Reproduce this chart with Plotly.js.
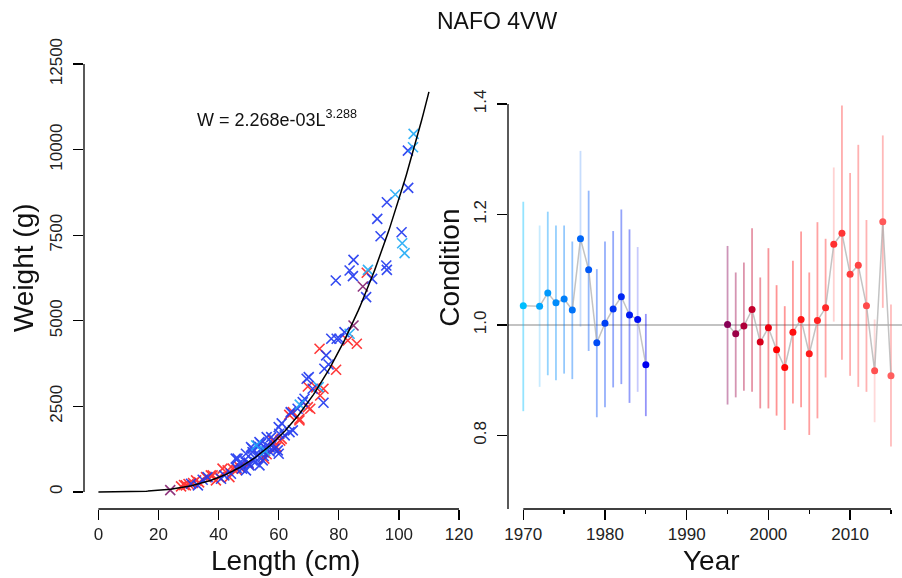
<!DOCTYPE html>
<html>
<head>
<meta charset="utf-8">
<script src="https://cdn.plot.ly/plotly-3.0.1.min.js"></script>
<style>html,body{margin:0;padding:0;background:#fff;}#chart{width:902px;height:578px;}</style>
</head>
<body>
<div id="chart"></div>
<script>
// ---------------- DATA ----------------
// Length-weight fit (as printed on chart)
const fitA = 2.268e-3;
const fitB = 3.288;
const fitMaxLength = 110;

// Scatter of length (cm) / weight (g), grouped by colour period
const lenBlue = [103,103.1,96,92.8,93.9,100.9,95.8,96,84.9,83.6,84.7,79,91.1,89.1,81.9,80.2,77.5,79.3,75.8,76.6,75.2,70,69.3,71.3,74.9,68,66.3,68.6,64.1,64.7,63.6,60,60.2,60,58.6,56,54.1,50.8,51.3,53,52.2,53.6,50.2,48.6,46.3,47.8,49.1,44.1,41.9,34.7,30.8,33.1,36.3,40.8,45.7,49.1,51.3,53.6,57.5,61,59.7,64,51.3,54.7,55,57,52,54,56,50,48,46,58,62,55,53,57,47];
const wtBlue  = [9974,8884,8464,7979,7471,7588,6615,6489,6781,6469,6303,6177,6226,5690,4668,4474,4474,4474,3987,3724,3598,3353,3306,3014,2605,2623,2430,2722,2313,1796,1747,1893,1700,1116,1262,1600,1408,1308,1162,1066,870,774,774,920,970,678,628,531,482,356,239,190,432,385,970,1116,1262,1455,1600,2000,1212,2330,920,920,1150,1300,1000,1250,1350,850,780,700,1400,1650,1050,1350,1180,850];

const lenRed = [89.3,73.6,79.1,83,86,69.7,74.9,73.8,69.7,70.5,66.9,64.7,58,59.3,55.2,44.7,43,41.3,40.2,38,35.8,32.5,29.1,27.5,30,28.5,31.5,33.5,47,58.6,63.5,66.9,43.6,39.1,37.4,46,50,56,61,72.5,60.5];
const wtRed  = [6402,4182,3569,4425,4328,3081,3014,2818,2477,2430,2138,2331,1504,1308,970,678,628,678,432,482,432,336,190,161,230,200,260,280,725,1262,2250,2088,432,336,482,650,820,1100,1550,3050,1500];

const lenLight = [104.9,104.7,98.8,101.1,101.9,89.7,83.6,73.3,52.5,67,55.5];
const wtLight  = [10461,10070,8689,7267,6975,6489,4620,3061,1358,2550,1200];

const lenPurple = [88,84.9,23.9];
const wtPurple  = [6002,4863,50];

// Condition index by year, with interval limits
const yearsEarly = [1970,1972,1973,1974,1975,1976,1977,1978,1979,1980,1981,1982,1983,1984,1985];
const condEarly  = [1.035,1.034,1.058,1.040,1.047,1.027,1.156,1.100,0.968,1.003,1.029,1.051,1.018,1.010,0.928];
const lowEarly   = [0.844,0.888,0.909,0.900,0.912,0.902,0.997,0.953,0.833,0.851,0.887,0.893,0.859,0.879,0.835];
const highEarly  = [1.223,1.180,1.205,1.180,1.180,1.151,1.315,1.243,1.101,1.151,1.170,1.209,1.173,1.141,1.020];

const yearsLate = [1995,1996,1997,1998,1999,2000,2001,2002,2003,2004,2005,2006,2007,2008,2009,2010,2011,2012,2013,2014,2015];
const condLate  = [1.001,0.984,0.998,1.028,0.969,0.995,0.955,0.923,0.987,1.010,0.948,1.008,1.031,1.146,1.166,1.092,1.108,1.035,0.917,1.187,0.908];
const lowLate   = [0.856,0.869,0.881,0.879,0.849,0.849,0.836,0.810,0.858,0.851,0.801,0.831,0.905,1.006,0.937,0.908,0.888,0.879,0.824,1.031,0.780];
const highLate  = [1.143,1.095,1.113,1.175,1.086,1.139,1.072,1.034,1.116,1.169,1.095,1.186,1.156,1.285,1.397,1.275,1.326,1.190,1.010,1.343,1.037];

const lengthTicks = [0,20,40,60,80,100,120];
const weightTicks = [0,2500,5000,7500,10000,12500];
const weightTickText = ['0','2500','5000','7500','10000','12500'];
const yearTicks = [1970,1980,1990,2000,2010];
const yearTickText = ['1970','1980','1990','2000','2010'];
const yearMinorTicks = [1975,1985,1995,2005,2015];
const condTicks = [0.8,1.0,1.2,1.4];
const condTickText = ['0.8','1.0','1.2','1.4'];

// ---------------- STYLE ----------------
const FONT = 'Liberation Sans, Arial, Helvetica, sans-serif';
const W = 902, H = 578;
const px = v => v / W;
const py = v => 1 - v / H;
const cRange = [0.667, 1.503];

function mix(c1, c2, t) {
  return c1.map((v, i) => Math.round(v + (c2[i] - v) * t));
}
function earlyColor(yr) {
  const t = (yr - 1970) / 15;
  return mix([0, 191, 255], [0, 0, 240], t);
}
function lateColor(yr) {
  if (yr <= 2001) return mix([135, 0, 85], [255, 0, 0], (yr - 1995) / 6);
  return mix([255, 0, 0], [255, 95, 95], (yr - 2001) / 14);
}
const rgb = c => `rgb(${c[0]},${c[1]},${c[2]})`;
const rgba = (c, a) => `rgba(${c[0]},${c[1]},${c[2]},${a})`;
const lightBars = [1972, 1977, 1984, 2008, 2013];

const traces = [];

// scatter groups
function xs(lens, wts, col) {
  traces.push({
    type: 'scatter', mode: 'markers', x: lens, y: wts, xaxis: 'x', yaxis: 'y',
    marker: {symbol: 'x-thin-open', size: 10, color: col, line: {width: 1.6, color: col}},
    opacity: 0.9, hoverinfo: 'skip'
  });
}
xs(lenRed, wtRed, 'rgb(255,35,35)');
xs(lenBlue, wtBlue, 'rgb(30,55,240)');
xs(lenLight, wtLight, 'rgb(30,170,245)');
xs(lenPurple, wtPurple, 'rgb(130,30,110)');

// fitted curve
const curveL = [], curveW = [];
for (let L = 0; L <= fitMaxLength + 1e-9; L += 0.5) {
  curveL.push(L);
  curveW.push(fitA * Math.pow(L, fitB));
}
traces.push({type: 'scatter', mode: 'lines', x: curveL, y: curveW, xaxis: 'x', yaxis: 'y',
  line: {color: '#000', width: 1.5}, hoverinfo: 'skip'});

// error bars
function bars(years, lows, highs, colFn) {
  years.forEach((yr, i) => {
    const a = lightBars.includes(yr) ? 0.22 : 0.42;
    traces.push({type: 'scatter', mode: 'lines', x: [yr, yr], y: [lows[i], highs[i]],
      xaxis: 'x2', yaxis: 'y2', line: {color: rgba(colFn(yr), a), width: 1.8}, hoverinfo: 'skip'});
  });
}
bars(yearsEarly, lowEarly, highEarly, earlyColor);
bars(yearsLate, lowLate, highLate, lateColor);

// connecting lines
[[yearsEarly, condEarly], [yearsLate, condLate]].forEach(([x, y]) => {
  traces.push({type: 'scatter', mode: 'lines', x: x, y: y, xaxis: 'x2', yaxis: 'y2',
    line: {color: 'rgba(175,175,175,0.75)', width: 1.5}, hoverinfo: 'skip'});
});
// points
traces.push({type: 'scatter', mode: 'markers', x: yearsEarly, y: condEarly, xaxis: 'x2', yaxis: 'y2',
  marker: {size: 7, color: yearsEarly.map(y => rgb(earlyColor(y)))}, hoverinfo: 'skip'});
traces.push({type: 'scatter', mode: 'markers', x: yearsLate, y: condLate, xaxis: 'x2', yaxis: 'y2',
  marker: {size: 7, color: yearsLate.map(y => rgb(lateColor(y)))}, hoverinfo: 'skip'});

const tickCommon = {
  showgrid: false, zeroline: false, showline: false, ticks: 'outside', ticklen: 10,
  tickwidth: 1.3, tickcolor: '#000', tickfont: {family: FONT, size: 17, color: '#222'}
};

const axLine = {color: '#000', width: 1.3};
const layout = {
  width: W, height: H, margin: {l: 0, r: 0, t: 0, b: 0},
  paper_bgcolor: '#fff', plot_bgcolor: '#fff', showlegend: false,
  xaxis: Object.assign({}, tickCommon, {domain: [px(84), px(473.4)], range: [-4.8, 124.8],
    tickmode: 'array', tickvals: lengthTicks, ticktext: lengthTicks.map(String), anchor: 'y', ticklabelstandoff: 0}),
  yaxis: Object.assign({}, tickCommon, {domain: [py(509), py(47)], range: [-500, 13000],
    tickmode: 'array', tickvals: weightTicks, ticktext: weightTickText, tickangle: -90, anchor: 'x', ticklabelstandoff: 4}),
  xaxis2: Object.assign({}, tickCommon, {domain: [px(508), 1], range: [1968.13, 2016.35],
    tickmode: 'array', tickvals: yearTicks, ticktext: yearTickText, anchor: 'y2', ticklabelstandoff: 0,
    minor: {tickmode: 'array', tickvals: yearMinorTicks, ticks: 'outside', ticklen: 4, tickwidth: 1.3, tickcolor: '#000', showgrid: false}}),
  yaxis2: Object.assign({}, tickCommon, {domain: [py(509), py(47)], range: cRange,
    tickmode: 'array', tickvals: condTicks, ticktext: condTickText, tickangle: -90, anchor: 'x2', ticklabelstandoff: 4}),
  shapes: [
    {type: 'line', layer: 'below', xref: 'x2 domain', x0: 0, x1: 1, yref: 'y2', y0: 1, y1: 1, line: {color: 'rgb(195,195,195)', width: 2}},
    {type: 'line', xref: 'x domain', x0: 0, x1: 0, yref: 'y', y0: weightTicks[0], y1: weightTicks[weightTicks.length - 1], line: axLine},
    {type: 'line', xref: 'x', x0: lengthTicks[0], x1: lengthTicks[lengthTicks.length - 1], yref: 'y domain', y0: 0, y1: 0, line: axLine},
    {type: 'line', xref: 'x2 domain', x0: 0, x1: 0, yref: 'y2', y0: cRange[0], y1: condTicks[condTicks.length - 1], line: axLine},
    {type: 'line', xref: 'x2', x0: yearTicks[0], x1: yearMinorTicks[yearMinorTicks.length - 1], yref: 'y2 domain', y0: 0, y1: 0, line: axLine}
  ],
  annotations: [
    {text: 'NAFO 4VW', xref: 'paper', yref: 'paper', x: px(497), y: py(21.3), xanchor: 'center', yanchor: 'middle', showarrow: false, font: {family: FONT, size: 23, color: '#111'}},
    {text: 'W = 2.268e-03L<sup>3.288</sup>', xref: 'paper', yref: 'paper', x: px(195), y: py(119), xanchor: 'left', yanchor: 'middle', showarrow: false, font: {family: FONT, size: 18, color: '#111'}},
    {text: 'Length (cm)', xref: 'paper', yref: 'paper', x: px(285.5), y: py(560), xanchor: 'center', yanchor: 'middle', showarrow: false, font: {family: FONT, size: 28, color: '#111'}},
    {text: 'Year', xref: 'paper', yref: 'paper', x: px(711), y: py(560.5), xanchor: 'center', yanchor: 'middle', showarrow: false, font: {family: FONT, size: 28, color: '#111'}},
    {text: 'Weight (g)', textangle: -90, xref: 'paper', yref: 'paper', x: px(23.6), y: py(267.5), xanchor: 'center', yanchor: 'middle', showarrow: false, font: {family: FONT, size: 28, color: '#111'}},
    {text: 'Condition', textangle: -90, xref: 'paper', yref: 'paper', x: px(449.5), y: py(268.3), xanchor: 'center', yanchor: 'middle', showarrow: false, font: {family: FONT, size: 28, color: '#111'}}
  ]
};

Plotly.newPlot('chart', traces, layout, {staticPlot: true, displayModeBar: false});
</script>
</body>
</html>
